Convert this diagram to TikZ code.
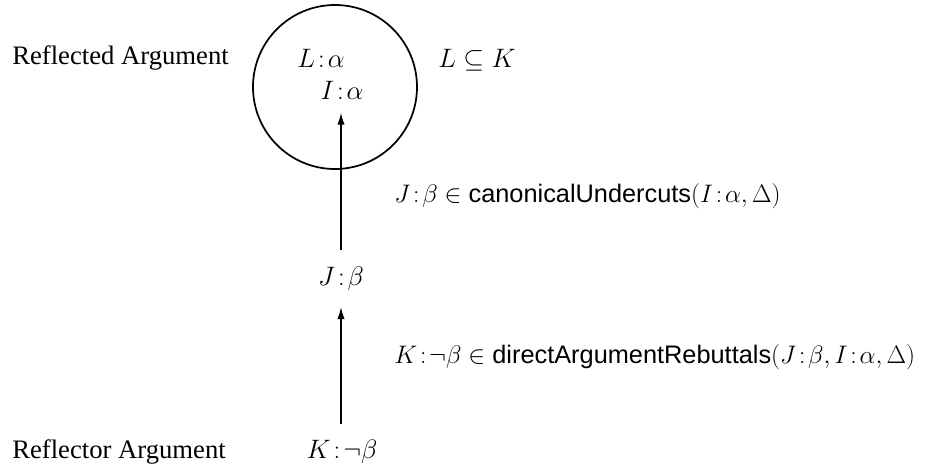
\documentclass[tikz,border=0pt]{standalone}
\usepackage{fix-cm}
\usepackage{fontspec}
\setmainfont{Liberation Serif}
\setsansfont{Liberation Sans}
\usetikzlibrary{arrows.meta}
\newcommand{\cl}{\mskip2mu{:}\mskip2mu}
\newcommand{\fn}[1]{\mbox{\sffamily #1}}
\begin{document}
\begin{tikzpicture}[x=0.75pt,y=-0.75pt,
  every node/.style={font=\fontsize{20}{24}\selectfont, inner sep=0pt},
  lbl/.style={anchor=west, font=\fontsize{19}{23}\selectfont},
  arr/.style={-{Latex[length=9pt,width=5.5pt]}, line width=1pt},
  ring/.style={draw, circle, line width=1.3pt, minimum size=123pt}]
\useasboundingbox (0,0) rectangle (932,468);
\node[ring] (circ) at (335,87) {};
\node[anchor=west] (refl) at (12,58) {Reflected Argument};
\node (la) at (321,58) {$L\cl\alpha$};
\node (ia) at (342,90) {$I\cl\alpha$};
\node[anchor=west] (lk) at (438,60) {$L\subseteq K$};
\node (jb) at (341,279) {$J\cl\beta$};
\node (kb) at (342,452) {$K\cl\neg\beta$};
\node[anchor=west] (refr) at (12,452) {Reflector Argument};
\node[lbl] (l1) at (394,196) {$J\cl\beta\in\fn{canonicalUndercuts}(I\cl\alpha,\Delta)$};
\node[lbl] (l2) at (394,357) {$K\cl\neg\beta\in\fn{directArgumentRebuttals}(J\cl\beta,I\cl\alpha,\Delta)$};
\draw[arr, shorten <=13pt, shorten >=10pt] (jb.north) -- (jb.north |- ia.south);
\draw[arr, shorten <=12pt, shorten >=12pt] (kb.north -| jb.south) -- (jb.south);
\end{tikzpicture}
\end{document}
